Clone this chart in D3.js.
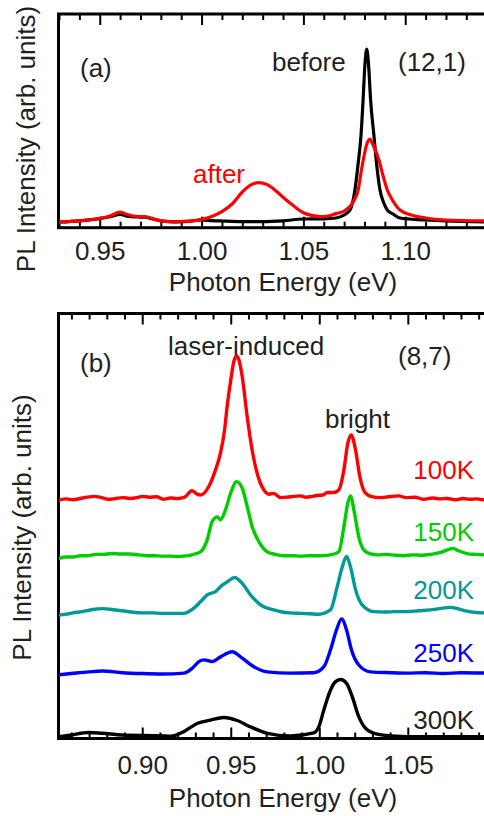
<!DOCTYPE html>
<html>
<head>
<meta charset="utf-8">
<script src="https://cdn.jsdelivr.net/npm/d3@7"></script>
<style>
  html, body { margin: 0; padding: 0; background: #fff; }
  svg { display: block; }
  text { font-family: "Liberation Sans", Arial, Helvetica, sans-serif; fill: #231f20; }
</style>
</head>
<body>
<svg id="chart" width="484" height="816"></svg>
<script>
// ---------------- DATA ----------------
// Panel (a): (12,1) PL spectra, energy (eV) and intensity (arb. units)
const aBeforeE = [0.930,0.940,0.949,0.955,0.960,0.964,0.968,0.972,0.976,0.981,0.987,0.993,1.000,1.005,1.010,1.020,1.030,1.040,1.050,1.060,1.066,1.070,1.0729,1.0753,1.0768,1.0783,1.0793,1.0802,1.0811,1.0820,1.0830,1.0846,1.0860,1.0876,1.0893,1.0912,1.0940,1.0974,1.1020,1.1100,1.1200,1.1400];
const aBeforeI = [0.030,0.036,0.046,0.056,0.068,0.058,0.055,0.054,0.045,0.034,0.031,0.033,0.040,0.037,0.035,0.032,0.032,0.036,0.045,0.046,0.050,0.065,0.090,0.190,0.315,0.465,0.640,0.815,0.895,0.815,0.640,0.465,0.315,0.190,0.130,0.090,0.070,0.050,0.045,0.040,0.035,0.030];
const aAfterE = [0.930,0.940,0.949,0.955,0.960,0.964,0.968,0.972,0.976,0.981,0.987,0.993,1.000,1.005,1.010,1.015,1.020,1.024,1.028,1.032,1.036,1.040,1.045,1.050,1.054,1.058,1.062,1.066,1.070,1.0750,1.0769,1.0785,1.0794,1.0810,1.0826,1.0842,1.0871,1.0890,1.0912,1.0940,1.0974,1.1030,1.1100,1.1200,1.1400];
const aAfterI = [0.030,0.036,0.046,0.060,0.079,0.066,0.058,0.057,0.047,0.034,0.031,0.033,0.043,0.058,0.082,0.120,0.180,0.214,0.227,0.218,0.190,0.154,0.112,0.076,0.063,0.057,0.060,0.072,0.085,0.140,0.190,0.290,0.340,0.415,0.445,0.415,0.340,0.265,0.190,0.135,0.090,0.065,0.050,0.040,0.035];

// Panel (b): (8,7) temperature series (offset spectra)
const bLabels = ["100K","150K","200K","250K","300K"];
const b100E = [0.853,0.857,0.861,0.865,0.869,0.873,0.877,0.881,0.885,0.889,0.893,0.897,0.900,0.904,0.908,0.912,0.916,0.920,0.924,0.928,0.931,0.933,0.9376,0.9414,0.9442,0.9465,0.948,0.950,0.9518,0.9533,0.9548,0.9565,0.9593,0.9621,0.9649,0.9687,0.9715,0.9743,0.9781,0.982,0.9855,0.9894,0.9925,0.995,0.9985,1.002,1.0045,1.008,1.011,1.0139,1.0161,1.018,1.0205,1.0229,1.0255,1.029,1.0346,1.039,1.0449,1.049,1.054,1.059,1.064,1.068,1.0722,1.077,1.081,1.085,1.089,1.0929,1.095];
const b100I = [5.64,5.67,5.65,5.68,5.71,5.73,5.70,5.66,5.68,5.70,5.68,5.70,5.73,5.71,5.72,5.66,5.69,5.68,5.71,5.86,5.78,5.76,5.96,6.35,6.74,7.28,7.85,8.45,8.90,9.02,8.90,8.53,7.59,6.81,6.27,5.88,5.78,5.80,5.70,5.71,5.73,5.74,5.71,5.72,5.75,5.76,5.82,5.82,5.88,6.35,6.97,7.17,6.81,6.19,5.84,5.73,5.70,5.72,5.74,5.70,5.71,5.66,5.69,5.67,5.68,5.65,5.68,5.66,5.67,5.65,5.66];
const b150E = [0.853,0.857,0.861,0.865,0.869,0.8736,0.878,0.883,0.888,0.893,0.898,0.903,0.907,0.9113,0.916,0.920,0.9235,0.928,0.9329,0.9367,0.9395,0.9424,0.9442,0.947,0.9499,0.9533,0.9565,0.9593,0.9621,0.9659,0.9706,0.975,0.980,0.985,0.9894,0.995,1.000,1.0063,1.011,1.0139,1.0161,1.0176,1.0199,1.0223,1.0252,1.029,1.0327,1.038,1.043,1.0477,1.053,1.058,1.0628,1.068,1.072,1.0754,1.079,1.0835,1.088,1.0929,1.095];
const b150I = [4.28,4.31,4.31,4.34,4.34,4.37,4.37,4.39,4.38,4.38,4.36,4.34,4.34,4.33,4.33,4.32,4.33,4.36,4.43,4.71,5.14,5.25,5.18,5.41,5.80,6.07,5.92,5.49,5.02,4.67,4.43,4.37,4.34,4.34,4.33,4.34,4.34,4.36,4.43,5.02,5.57,5.74,5.33,4.78,4.47,4.38,4.36,4.37,4.35,4.34,4.36,4.35,4.37,4.41,4.47,4.51,4.45,4.39,4.37,4.36,4.36];
const b200E = [0.853,0.857,0.861,0.8661,0.872,0.8774,0.883,0.8887,0.894,0.900,0.9057,0.9113,0.917,0.9235,0.9292,0.9329,0.9367,0.9414,0.9452,0.9485,0.9521,0.9565,0.9612,0.9668,0.9743,0.979,0.9837,0.990,0.995,0.9997,1.0063,1.0101,1.013,1.0154,1.0176,1.0205,1.0242,1.0308,1.037,1.043,1.0497,1.056,1.0628,1.068,1.0741,1.079,1.0835,1.0885,1.0929,1.095];
const b200I = [2.95,2.97,3.00,3.03,3.08,3.10,3.08,3.05,3.02,3.00,3.00,2.99,2.99,2.99,3.11,3.26,3.42,3.50,3.65,3.74,3.83,3.69,3.42,3.19,3.07,3.02,3.00,2.99,2.98,2.97,3.07,3.61,4.08,4.32,4.08,3.54,3.19,3.03,3.02,3.03,3.03,3.05,3.07,3.10,3.13,3.09,3.04,3.01,3.00,3.00];
const b250E = [0.853,0.860,0.8698,0.8774,0.8887,0.900,0.9113,0.9235,0.9282,0.932,0.9348,0.9395,0.9442,0.9508,0.9565,0.963,0.9706,0.9837,0.9969,1.0026,1.0063,1.0097,1.0126,1.0154,1.0182,1.0223,1.0289,1.040,1.0497,1.060,1.070,1.080,1.095];
const b250I = [1.55,1.58,1.62,1.64,1.60,1.58,1.57,1.59,1.70,1.86,1.90,1.86,1.97,2.09,1.94,1.74,1.62,1.59,1.60,1.74,2.13,2.60,2.86,2.60,2.13,1.78,1.62,1.60,1.59,1.60,1.58,1.60,1.59];
const b300E = [0.853,0.860,0.8698,0.8774,0.8887,0.9113,0.916,0.9235,0.931,0.9386,0.9461,0.9537,0.9612,0.9706,0.9837,0.9969,0.9997,1.0026,1.0063,1.0092,1.012,1.0154,1.0186,1.0223,1.0261,1.0327,1.0402,1.059,1.095];
const b300I = [0.10,0.14,0.20,0.18,0.14,0.12,0.11,0.22,0.41,0.49,0.55,0.48,0.33,0.18,0.12,0.19,0.33,0.73,1.19,1.39,1.44,1.35,1.04,0.57,0.30,0.16,0.12,0.10,0.10];

// Tick values
const aMajorTicks = [0.95, 1.00, 1.05, 1.10];
const aMinorTicks = [0.93,0.94,0.96,0.97,0.98,0.99,1.01,1.02,1.03,1.04,1.06,1.07,1.08,1.09,1.11,1.12,1.13,1.14];
const bMajorTicks = [0.90, 0.95, 1.00, 1.05];
const bMinorTicks = [0.86,0.87,0.88,0.89,0.91,0.92,0.93,0.94,0.96,0.97,0.98,0.99,1.01,1.02,1.03,1.04,1.06,1.07,1.08,1.09];

// ---------------- DRAW ----------------
const svg = d3.select("#chart");
const FS = 26;
const zip = (E, I) => E.map((e, i) => [e, I[i]]);

function panel(cfg) {
  const g = svg.append("g");
  const x = d3.scaleLinear().domain(cfg.xDomain).range([cfg.left, cfg.right]);
  const y = d3.scaleLinear().domain(cfg.yDomain).range([cfg.yBottom, cfg.yTop]);

  const addAxis = (axisFn, yPos, vals, size, labels, pad) => {
    const ax = axisFn(x).tickValues(vals).tickSize(size).tickPadding(pad || 0);
    ax.tickFormat(labels ? d3.format(".2f") : () => "");
    const a = g.append("g").attr("transform", `translate(0,${yPos})`).call(ax);
    a.select(".domain").remove();
    a.selectAll("line").attr("stroke", "#000").attr("stroke-width", 2);
    a.selectAll("text").style("font-size", FS + "px").attr("fill", "#231f20");
    return a;
  };
  addAxis(d3.axisBottom, cfg.frameBottom, cfg.major, -11, true, cfg.labelPad);
  addAxis(d3.axisBottom, cfg.frameBottom, cfg.minor, -6, false);
  addAxis(d3.axisTop, cfg.frameTop, cfg.major, -11, false);
  addAxis(d3.axisTop, cfg.frameTop, cfg.minor, -6, false);

  g.append("rect")
    .attr("x", cfg.left - 0.5).attr("y", cfg.frameTop)
    .attr("width", cfg.right - cfg.left + 5).attr("height", cfg.frameBottom - cfg.frameTop)
    .attr("fill", "none").attr("stroke", "#000").attr("stroke-width", 3);

  const line = d3.line().x(d => x(d[0])).y(d => y(d[1])).curve(d3.curveMonotoneX);
  const clipId = "clip" + cfg.id;
  svg.append("clipPath").attr("id", clipId).append("rect")
    .attr("x", cfg.left).attr("y", cfg.frameTop).attr("width", 484 - cfg.left).attr("height", cfg.frameBottom - cfg.frameTop);
  const lg = g.append("g").attr("clip-path", `url(#${clipId})`);
  cfg.series.forEach(s => {
    lg.append("path").datum(s.data)
      .attr("d", line).attr("fill", "none")
      .attr("stroke", s.color).attr("stroke-width", cfg.lineWidth)
      .attr("stroke-linejoin", "round").attr("stroke-linecap", "round");
  });

  g.append("text").attr("x", cfg.titleX).attr("y", cfg.titleY)
    .attr("text-anchor", "middle").style("font-size", FS + "px")
    .text("Photon Energy (eV)");
  g.append("text")
    .attr("transform", `translate(${cfg.yTitleX},${cfg.yTitleY}) rotate(-90)`)
    .attr("text-anchor", "middle").style("font-size", FS + "px")
    .text("PL Intensity (arb. units)");

  cfg.notes.forEach(n => {
    g.append("text").attr("x", n.x).attr("y", n.y)
      .attr("text-anchor", n.anchor || "start")
      .style("font-size", FS + "px").style("fill", n.color || "#231f20")
      .text(n.t);
  });
  return g;
}

panel({
  id: "a",
  xDomain: [0.93, 1.14], left: 59, right: 486.7,
  yDomain: [0, 1.07], yBottom: 228, yTop: 14,
  frameTop: 14, frameBottom: 227.7, labelPad: 14, lineWidth: 3.2,
  major: aMajorTicks, minor: aMinorTicks,
  series: [
    { data: zip(aBeforeE, aBeforeI), color: "#000000" },
    { data: zip(aAfterE, aAfterI), color: "#ff0000" }
  ],
  titleX: 283, titleY: 291,
  yTitleX: 35, yTitleY: 139,
  notes: [
    { t: "(a)", x: 80, y: 77 },
    { t: "before", x: 272, y: 71 },
    { t: "(12,1)", x: 398, y: 71 },
    { t: "after", x: 193, y: 183, color: "#ff0000" }
  ]
});

const bColors = ["#ff0000", "#00cc00", "#009999", "#0000ff", "#000000"];
const bSeries = [zip(b100E, b100I), zip(b150E, b150I), zip(b200E, b200I), zip(b250E, b250I), zip(b300E, b300I)];
const bLabelY = [479, 540.5, 599, 661.5, 728.5];

panel({
  id: "b",
  xDomain: [0.853, 1.095], left: 59, right: 487.5,
  yDomain: [0, 10], yBottom: 741, yTop: 314,
  frameTop: 313.5, frameBottom: 738.5, labelPad: 17, lineWidth: 3.4,
  major: bMajorTicks, minor: bMinorTicks,
  series: bSeries.map((d, i) => ({ data: d, color: bColors[i] })),
  titleX: 283, titleY: 807,
  yTitleX: 31, yTitleY: 527.5,
  notes: [
    { t: "(b)", x: 80, y: 372 },
    { t: "laser-induced", x: 168, y: 355 },
    { t: "(8,7)", x: 398, y: 365 },
    { t: "bright", x: 325, y: 428 }
  ].concat(bLabels.map((l, i) => ({ t: l, x: 474, y: bLabelY[i], anchor: "end", color: bColors[i] === "#000000" ? "#231f20" : bColors[i] })))
});
</script>
</body>
</html>
